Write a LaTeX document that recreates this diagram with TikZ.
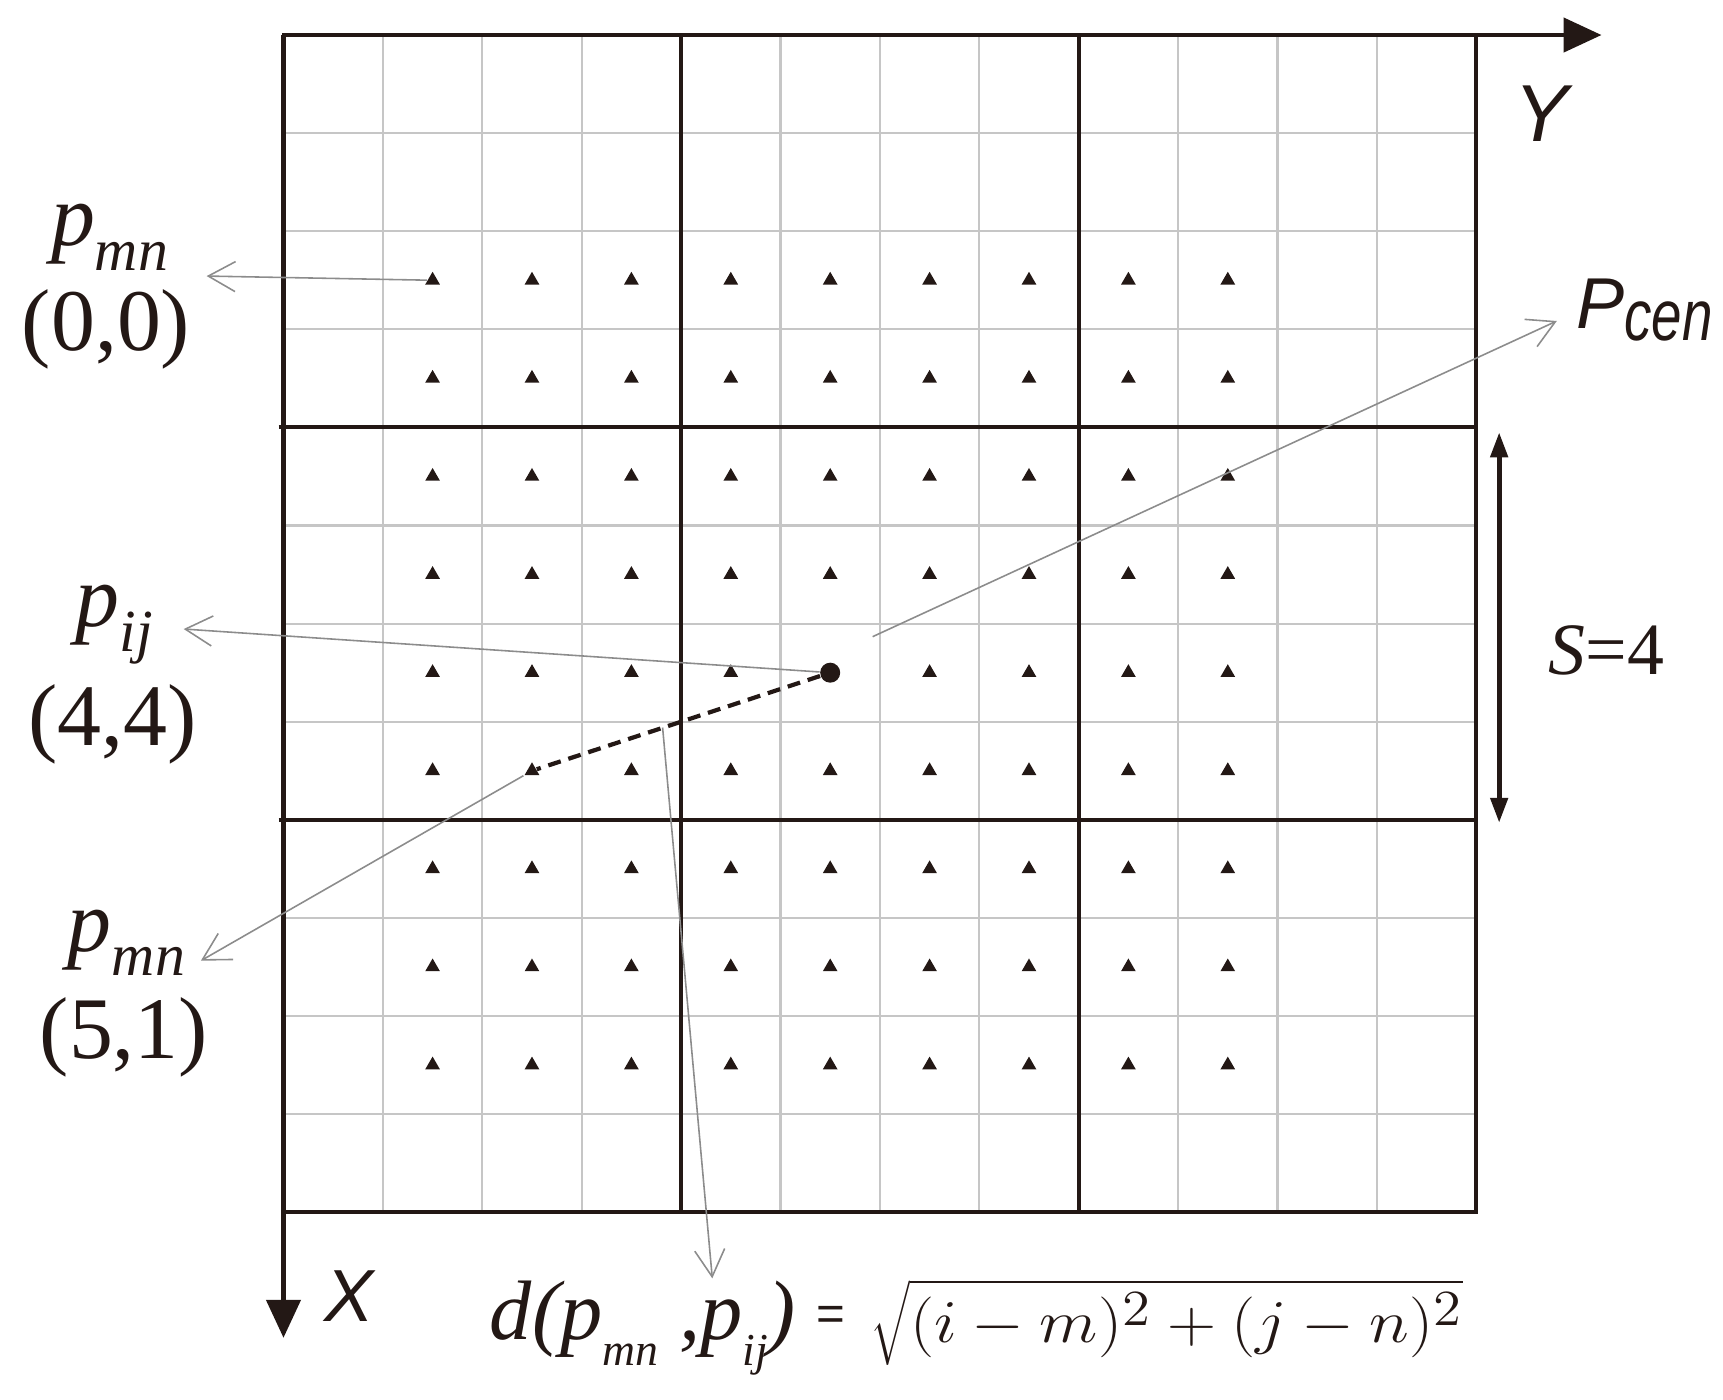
\documentclass[tikz,border=0pt]{standalone}
\usepackage{fontspec}
\setmainfont{Liberation Serif}
\newfontfamily\axisfont{Liberation Sans}
\usepackage{tikz}
\usetikzlibrary{arrows.meta,shapes.geometric}
\definecolor{ink}{HTML}{231815}
\definecolor{gridgray}{HTML}{C6C6C6}
\definecolor{leadgray}{HTML}{8C8C8C}
\newcommand{\lsub}[2]{\textit{#1}\raisebox{-0.28em}{\fontsize{17}{17}\selectfont\itshape #2}}

\begin{document}
\begin{tikzpicture}[x=0.994cm, y=-0.981cm,
  thin line/.style={draw=gridgray, line width=0.6pt},
  block line/.style={draw=ink, line width=1.1pt},
  axis/.style={draw=ink, line width=1.3pt, -{Triangle[length=3.8mm,width=3.4mm]}},
  tri/.style={regular polygon, regular polygon sides=3, fill=ink, inner sep=0pt, minimum size=1.7mm},
  leader/.style={draw=leadgray, line width=0.45pt, -{Straight Barb[length=2.7mm,width=3mm]}},
  lbl/.style={font=\fontsize{25}{25}\selectfont, text=ink, inner sep=0pt, anchor=base},
  ]
\useasboundingbox (-2.852,-0.357) rectangle (14.482,13.904);

% fine grid
\foreach \k in {1,2,3,5,6,7,9,10,11} {
  \draw [thin line] (\k,0) -- (\k,12);
  \draw [thin line] (0,\k) -- (12,\k);
}
% S x S blocks
\foreach \k in {4,8} {
  \draw [block line] (\k,0) -- (\k,12);
  \draw [block line] (-0.05,\k) -- (12,\k);
}
\draw [block line] (0,0) rectangle (12,12);

% axes
\coordinate (o) at (0,0);
\coordinate (yend) at (13.26,0);
\coordinate (xend) at (0,13.28);
\draw [axis] (o) -- (yend);
\draw [axis] (o) -- (xend);
\node at (12.66,0.80) [font=\axisfont\fontsize{23}{23}\selectfont\itshape, text=ink] (ylab) {Y};
\node at (0.66,12.85) [font=\axisfont\fontsize{21}{21}\selectfont\itshape, text=ink] (xlab) {X};

% sampled points
\foreach \c in {1,...,9}
  \foreach \r in {2,...,10} {
    \ifnum\c\r=56 \else
      \node at (\c+0.5,\r+0.5) [tri] (t-\c-\r) {};
    \fi
  }
\node at (5.5,6.5) [circle, fill=ink, inner sep=0pt, minimum size=2mm] (pij) {};
\draw [ink, line width=1.2pt, dash pattern=on 1.3mm off 0.8mm] (pij) -- (t-2-7);

% labels
\node at (-1.75,2.15) [lbl] (pmn0) {\lsub{p}{mn}};
\node at (-1.785,3.22) [lbl] (c00) {(0,0)};
\node at (-1.70,6.03) [lbl] (pij0) {\lsub{p}{ij}};
\node at (-1.716,7.24) [lbl] (c44) {(4,4)};
\node at (-1.58,9.34) [lbl] (pmn1) {\lsub{p}{mn}};
\node at (-1.605,10.43) [lbl] (c51) {(5,1)};
\node at (13.0,2.99) [anchor=base west, inner sep=0pt, text=ink, font=\axisfont\fontsize{20.5}{21}\selectfont\itshape] (pcen) {P\raisebox{-0.12cm}{\scalebox{0.76}[1]{cen}}};

% leaders
\coordinate (a00) at (-0.773,2.457);
\coordinate (aij) at (-1.004,6.055);
\coordinate (a51) at (-0.831,9.436);
\coordinate (cs) at (5.927,6.133);
\coordinate (acen) at (12.81,2.915);
\coordinate (dmid) at (3.814,7.059);
\coordinate (ad) at (4.314,12.674);
\draw [leader] (t-1-2) -- (a00);
\draw [leader] (pij) -- (aij);
\draw [leader] (t-2-7) -- (a51);
\draw [leader] (cs) -- (acen);
\draw [leader] (dmid) -- (ad);

% block size
\coordinate (stop) at (12.23,4.05);
\coordinate (sbot) at (12.23,8.03);
\draw [ink, line width=1.4pt, {Triangle[length=2.5mm,width=1.7mm]}-{Triangle[length=2.5mm,width=1.7mm]}] (stop) -- (sbot);
\node at (13.31,6.27) [font=\fontsize{21}{21}\selectfont, text=ink] (slab) {\textit{S}=4};

% distance
\node at (2.07,13.30) [anchor=base west, inner sep=0pt, text=ink, font=\fontsize{24}{24}\selectfont\itshape] (dist) {d(p\raisebox{-0.3em}{\fontsize{13}{13}\selectfont mn} ,p\raisebox{-0.3em}{\fontsize{13}{13}\selectfont ij})};
\node at (5.51,13.08) [inner sep=0pt, text=ink, font=\axisfont\fontsize{14}{14}\selectfont] (eq) {=};
\node at (5.90,13.33) [anchor=base west, inner sep=0pt, text=ink, font=\fontsize{19}{19}\selectfont] (root) {\scalebox{1.12}[1]{$\sqrt{(i-m)^2+(j-n)^2}$}};
\end{tikzpicture}
\end{document}
